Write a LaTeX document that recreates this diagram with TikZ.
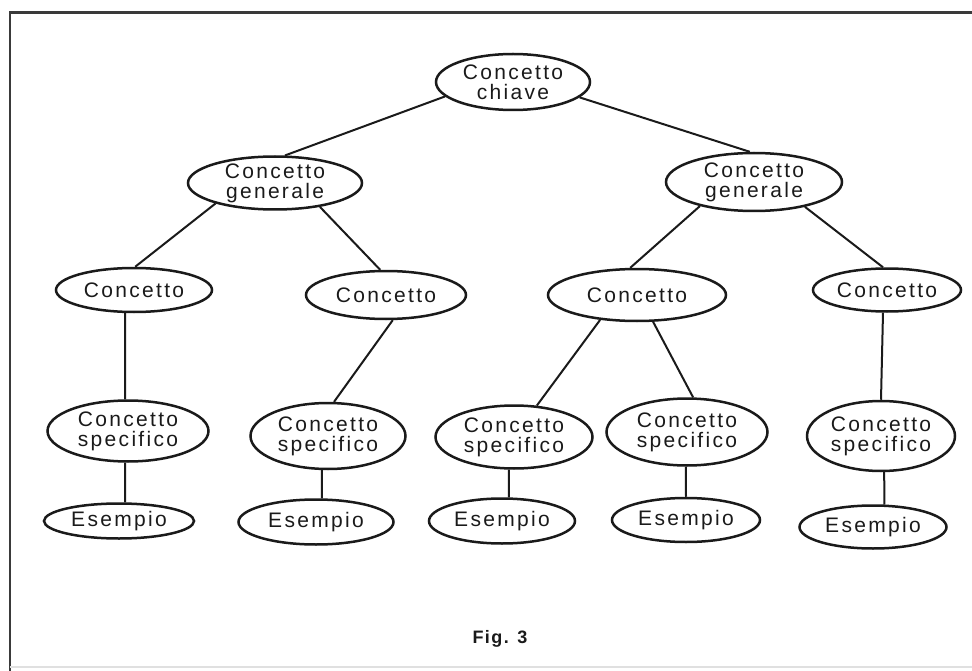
\documentclass[tikz,border=0pt]{standalone}
\usepackage{fontspec}
\setmainfont{Liberation Sans}
\usetikzlibrary{shapes.geometric}
\definecolor{inkline}{HTML}{1A1A1A}
\definecolor{framegray}{HTML}{3A3A3A}
\tikzset{
  oval/.style={ellipse, draw=inkline, line width=2.5pt, inner sep=-30pt, align=center,
    text=inkline, font=\fontsize{21}{20}\selectfont\addfontfeature{LetterSpace=11}},
  link/.style={draw=inkline, line width=2pt},
  caption/.style={inner sep=0pt, text=inkline, font=\fontsize{18}{18}\selectfont\bfseries\addfontfeature{LetterSpace=8}}
}

\begin{document}
\begin{tikzpicture}[x=1pt, y=-1pt]
\useasboundingbox (0,0) rectangle (972,671);
% frame
\draw[framegray, line width=2.8pt] (972,12.5) -- (10,12.5) -- (10,671);
\draw[black!12, line width=1.2pt] (10,667) -- (972,667);
% key concept and general concepts
\node[oval, minimum width=154pt, minimum height=56pt] (chiave) at (513,82) {Concetto\\chiave};
\node[oval, minimum width=174pt, minimum height=53pt] (genA) at (275,183) {Concetto\\generale};
\node[oval, minimum width=176pt, minimum height=58pt] (genB) at (754,182) {Concetto\\generale};
% concepts
\node[oval, minimum width=156pt, minimum height=44pt] (conA) at (134,290) {Concetto};
\node[oval, minimum width=160pt, minimum height=48pt] (conB) at (386,295) {Concetto};
\node[oval, minimum width=178pt, minimum height=52pt] (conC) at (637,295) {Concetto};
\node[oval, minimum width=148pt, minimum height=43pt] (conD) at (887,290) {Concetto};
% specific concepts
\node[oval, minimum width=161pt, minimum height=61pt] (speA) at (128,431) {Concetto\\specifico};
\node[oval, minimum width=155pt, minimum height=66pt] (speB) at (328,436) {Concetto\\specifico};
\node[oval, minimum width=157pt, minimum height=63pt] (speC) at (514,437) {Concetto\\specifico};
\node[oval, minimum width=161pt, minimum height=67pt] (speD) at (687,432) {Concetto\\specifico};
\node[oval, minimum width=148pt, minimum height=70pt] (speE) at (881,436) {Concetto\\specifico};
% examples
\node[oval, minimum width=150pt, minimum height=35pt] (esA) at (119,521) {Esempio};
\node[oval, minimum width=155pt, minimum height=45pt] (esB) at (316,522) {Esempio};
\node[oval, minimum width=146pt, minimum height=45pt] (esC) at (502,521) {Esempio};
\node[oval, minimum width=148pt, minimum height=44pt] (esD) at (686,520) {Esempio};
\node[oval, minimum width=147pt, minimum height=43pt] (esE) at (873,527) {Esempio};
\node[caption] (fig) at (500,639) {Fig. 3};
% links
\draw[link] (chiave.192)--(genA.70); \draw[link] (chiave.347)--(genB.98);
\draw[link] (genA.199)--(conA.87); \draw[link] (genA.332)--(conB.103);
\draw[link] (genB.204)--(conC.104); \draw[link] (genB.334)--(conD.100);
\draw[link] (conA.249)--(speA.95); \draw[link] (conB.285)--(speB.80);
\draw[link] (conC.214)--(speC.54); \draw[link] (conC.301)--(speD.80);
\draw[link] (conD.260)--(speE.90);
\draw[link] (speA.265)--(esA.72); \draw[link] (speB.260)--(esB.76);
\draw[link] (speC.261)--(esC.74); \draw[link] (speD.268)--(esD.90);
\draw[link] (speE.275)--(esE.63);
\end{tikzpicture}
\end{document}
